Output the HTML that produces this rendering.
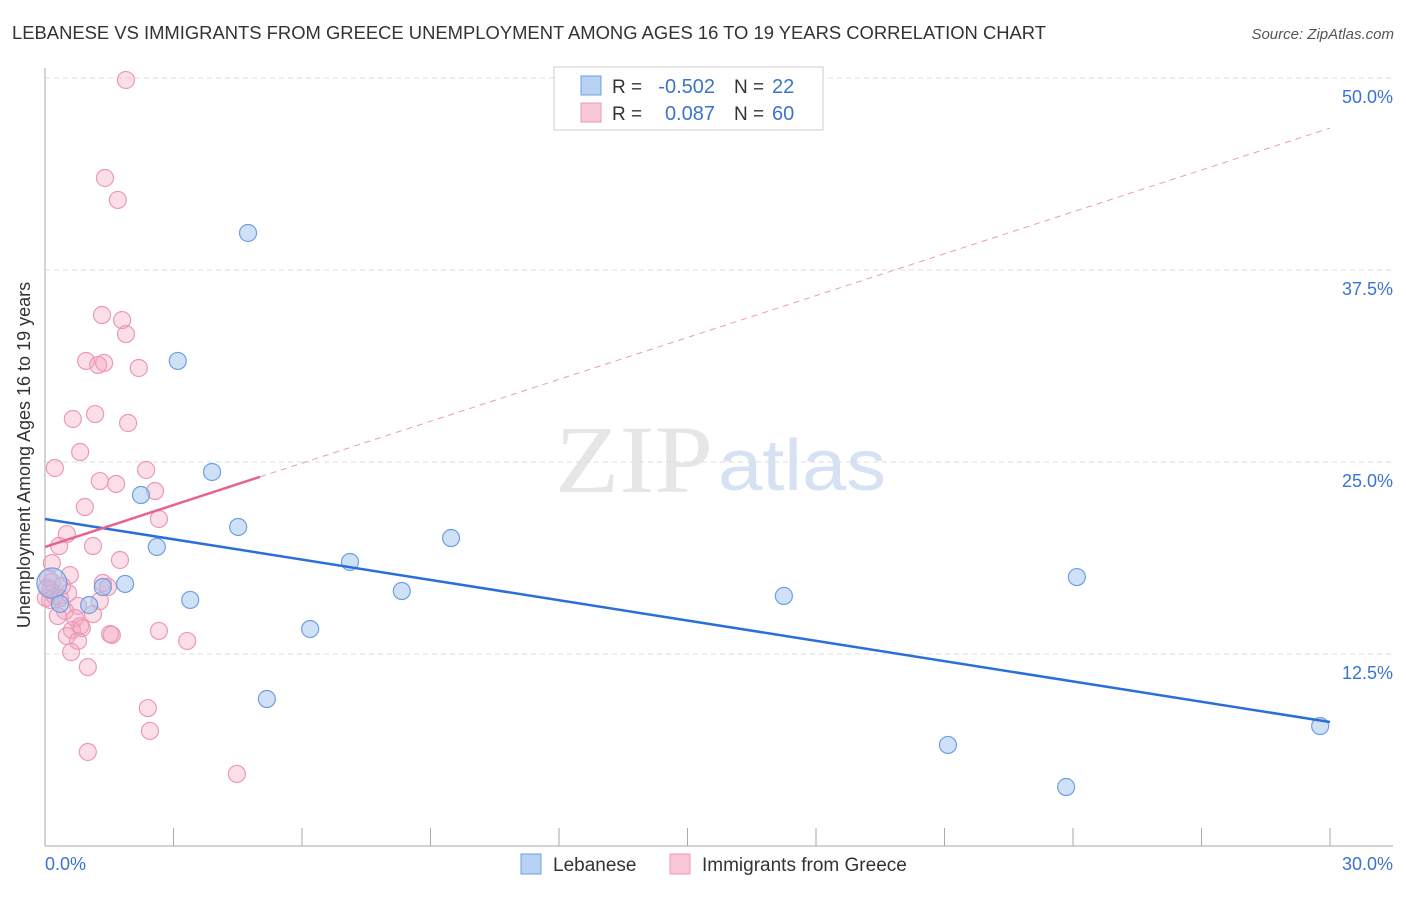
<!DOCTYPE html>
<html><head><meta charset="utf-8"><style>
body{margin:0;background:#fff;font-family:"Liberation Sans",sans-serif}
</style></head><body>
<svg id="c" width="1406" height="892" xmlns="http://www.w3.org/2000/svg">
<text x="12" y="39" font-size="18" fill="#333" textLength="1034" lengthAdjust="spacingAndGlyphs">LEBANESE VS IMMIGRANTS FROM GREECE UNEMPLOYMENT AMONG AGES 16 TO 19 YEARS CORRELATION CHART</text>
<text x="1394" y="39" font-size="15" fill="#555" font-style="italic" text-anchor="end">Source: ZipAtlas.com</text>
<text x="555" y="492" font-size="96" fill="#e6e6e6" textLength="158" lengthAdjust="spacingAndGlyphs" font-family="Liberation Serif,serif">ZIP</text>
<text x="718" y="490" font-size="72" fill="#d6e2f3" textLength="168" lengthAdjust="spacingAndGlyphs">atlas</text>
<g id="grid"></g><g id="axes"></g><g id="pts"></g><g id="trend"></g>
<text x="30" y="455" font-size="18" fill="#333" text-anchor="middle" transform="rotate(-90 30 455)">Unemployment Among Ages 16 to 19 years</text>
<g>
<rect x="554" y="67" width="269" height="63" fill="#fff" stroke="#ccc"/>
<rect x="581" y="76" width="20" height="19" fill="#b8d2f4" stroke="#6f9fe0"/>
<rect x="581" y="103" width="20" height="19" fill="#f9c8d8" stroke="#eb9ab5"/>
<text x="612" y="93" font-size="19" fill="#333">R =</text>
<text x="715" y="93" font-size="20" fill="#3b73d0" text-anchor="end">-0.502</text>
<text x="734" y="93" font-size="19" fill="#333">N =</text>
<text x="772" y="93" font-size="20" fill="#3b73d0">22</text>
<text x="612" y="120" font-size="19" fill="#333">R =</text>
<text x="715" y="120" font-size="20" fill="#3b73d0" text-anchor="end">0.087</text>
<text x="734" y="120" font-size="19" fill="#333">N =</text>
<text x="772" y="120" font-size="20" fill="#3b73d0">60</text>
</g>
<g>
<rect x="521" y="854" width="20" height="20" fill="#b8d2f4" stroke="#6f9fe0"/>
<text x="553" y="871" font-size="19" fill="#333">Lebanese</text>
<rect x="670" y="854" width="20" height="20" fill="#f9c8d8" stroke="#eb9ab5"/>
<text x="702" y="871" font-size="19" fill="#333">Immigrants from Greece</text>
</g>
</svg>
<script>
const yTicks=[12.5,25,37.5,50];
const yTickLabels=["12.5%","25.0%","37.5%","50.0%"];
const xTickLabels=["0.0%","30.0%"];
const blueX=[4.74,3.10,3.90,2.24,4.51,2.61,7.12,9.48,1.87,1.35,1.03,3.39,8.33,6.19,5.18,17.25,24.09,21.08,23.84,29.77,0.16,0.35];
const blueY=[39.91,31.58,24.35,22.85,20.77,19.47,18.49,20.05,17.06,16.86,15.69,16.02,16.60,14.13,9.57,16.28,17.51,6.58,3.84,7.81,17.12,15.76];
const pinkX=[1.89,1.40,1.70,1.33,1.80,1.89,0.96,1.24,1.38,2.19,1.17,0.65,1.94,0.82,0.23,2.36,1.28,1.66,2.57,0.93,2.66,0.51,1.12,0.33,1.75,0.16,0.07,0.58,1.35,0.12,1.47,0.40,0.23,0.54,1.28,0.77,0.47,1.12,0.30,0.70,0.82,0.63,0.86,1.56,1.52,2.66,0.51,0.77,3.32,0.61,1.00,2.40,2.45,1.00,4.48,0.12,0.02,0.35,0.05,0.16];
const pinkY=[49.87,43.49,42.06,34.57,34.24,33.33,31.58,31.32,31.45,31.12,28.12,27.80,27.54,25.65,24.61,24.48,23.76,23.57,23.11,22.07,21.29,20.31,19.53,19.53,18.62,18.42,17.45,17.64,17.12,16.67,16.86,16.93,16.28,16.47,15.95,15.63,15.30,15.10,14.97,14.84,14.32,14.06,14.19,13.74,13.80,14.00,13.67,13.35,13.35,12.63,11.65,8.98,7.49,6.12,4.69,16.02,16.15,16.15,16.80,17.19];
const blueTrend=[21.29,8.07];
const pinkTrend=[19.47,46.74];
const pinkSolidEnd=5.02;
const NS="http://www.w3.org/2000/svg";
const X=v=>45+v/30*1285, Y=v=>846-v/50*768;
function mk(t,a,p){const e=document.createElementNS(NS,t);for(const k in a)e.setAttribute(k,a[k]);document.getElementById(p).appendChild(e);return e;}
yTicks.forEach((t,i)=>{
 let l=mk('line',{x1:45,x2:1393,y1:Y(t),y2:Y(t),stroke:'#ddd','stroke-dasharray':'5,4'},'grid');
 
 
 let tx=mk('text',{x:1393,y:Y(t)+25,'font-size':18,fill:'#3b73d0','text-anchor':'end'},'grid');tx.textContent=yTickLabels[i];
 
 
});
mk('line',{x1:45,x2:45,y1:68,y2:846,stroke:'#aaa'},'axes');
mk('line',{x1:45,x2:1393,y1:846,y2:846,stroke:'#aaa'},'axes');
for(let i=1;i<=10;i++){mk('line',{x1:X(i*3),x2:X(i*3),y1:828,y2:846,stroke:'#aaa'},'axes');}
let a=mk('text',{x:45,y:870,'font-size':18,fill:'#3b73d0'},'axes');a.textContent=xTickLabels[0];


let b=mk('text',{x:1393,y:870,'font-size':18,fill:'#3b73d0','text-anchor':'end'},'axes');b.textContent=xTickLabels[1];


pinkX.forEach((x,i)=>{let c=mk('circle',{cx:X(x),cy:Y(pinkY[i]),r:8.5,fill:'rgba(244,160,190,0.35)',stroke:'#eb9ab5','stroke-width':1.2},'pts');
 
 });
blueX.forEach((x,i)=>{let c=mk('circle',{cx:X(x),cy:Y(blueY[i]),r:i==20?15:8.5,fill:'rgba(160,196,240,0.5)',stroke:'#6f9fe0','stroke-width':1.2},'pts');
 
 });
let t1=mk('line',{x1:X(0),y1:Y(blueTrend[0]),x2:X(30),y2:Y(blueTrend[1]),stroke:'#2a6fd6','stroke-width':2.5},'trend');


const py=x=>pinkTrend[0]+(pinkTrend[1]-pinkTrend[0])*x/30;
let t2=mk('line',{x1:X(0),y1:Y(py(0)),x2:X(pinkSolidEnd),y2:Y(py(pinkSolidEnd)),stroke:'#e8628e','stroke-width':2.5},'trend');


let t3=mk('line',{x1:X(pinkSolidEnd),y1:Y(py(pinkSolidEnd)),x2:X(30),y2:Y(py(30)),stroke:'#eb9ab5','stroke-width':1,'stroke-dasharray':'6,5'},'trend');


</script>
</body></html>
